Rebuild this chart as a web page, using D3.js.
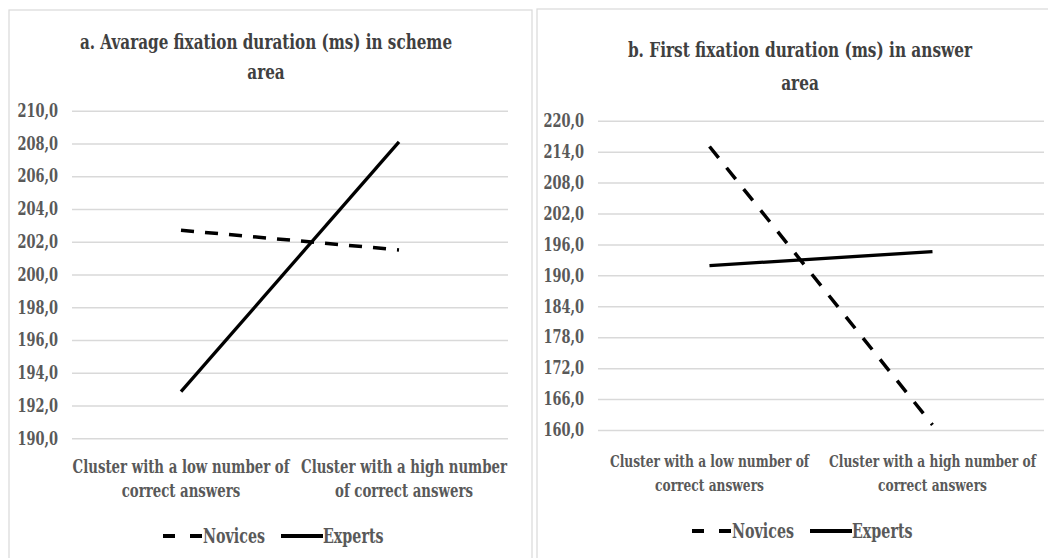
<!DOCTYPE html>
<html>
<head>
<meta charset="utf-8">
<script src="https://cdn.jsdelivr.net/npm/d3@7"></script>
<style>
  body { margin: 0; background: #fff; }
  svg text { font-family: "DejaVu Serif", serif; font-weight: bold; }
</style>
</head>
<body>
<div id="chart"></div>
<script>
// categories (two lines each)
const categoriesA = [["Cluster with a low number of", "correct answers"], ["Cluster with a high number", "of correct answers"]];
const categoriesB = [["Cluster with a low number of", "correct answers"], ["Cluster with a high number of", "correct answers"]];
const seriesNames = ["Novices", "Experts"];

// panel a values
const noviceA = [202.7, 201.5];
const expertA = [192.85, 208.1];
// panel b values
const noviceB = [215.0, 161.0];
const expertB = [191.9, 194.6];

const ticksA = d3.range(190, 210.1, 2);
const ticksB = d3.range(160, 220.1, 6);

const W = 1048, H = 558;
const sx = 0.72;
const svg = d3.select("#chart").append("svg").attr("width", W).attr("height", H);

const fmt = v => d3.format(".1f")(v).replace(".", ",");

function stext(g, x, y, str, opts) {
  return g.append("text")
    .attr("transform", `translate(${x},${y}) scale(${sx},1)`)
    .attr("text-anchor", opts.anchor || "middle")
    .attr("dy", "0.35em")
    .attr("font-size", opts.size)
    .attr("fill", opts.fill)
    .text(str);
}

// stretch the dash pattern a little so the line ends on a short dash, like the original
function fitDash(path, dash, gap) {
  const L = path.node().getTotalLength();
  const n = Math.max(1, Math.round((L - 2) / (dash + gap)));
  const k = (L - 2) / (n * (dash + gap));
  path.attr("stroke-dasharray", `${dash * k},${gap * k}`);
}

function panel(cfg) {
  const g = svg.append("g");
  g.append("rect")
    .attr("x", cfg.box[0]).attr("y", cfg.box[1])
    .attr("width", cfg.box[2]).attr("height", cfg.box[3])
    .attr("fill", "#fff").attr("stroke", "#d9d9d9").attr("stroke-width", 1.2);

  const x = d3.scaleBand().domain([0, 1]).range(cfg.xr);
  const y = d3.scaleLinear().domain(cfg.domain).range(cfg.yr);

  // gridlines + tick labels via axis
  const ax = g.append("g")
    .attr("transform", `translate(${cfg.xr[0]},0)`)
    .call(d3.axisLeft(y).tickValues(cfg.ticks).tickFormat(fmt)
      .tickSize(-(cfg.xr[1] - cfg.xr[0])).tickPadding(0));
  ax.attr("font-family", null);
  ax.select(".domain").remove();
  ax.selectAll(".tick line").attr("stroke", "#d9d9d9").attr("stroke-width", 1.5);
  ax.selectAll(".tick text")
    .attr("x", null)
    .attr("transform", `translate(-14,0) scale(${sx},1)`)
    .attr("font-size", 18).attr("fill", "#595959");

  // title
  cfg.title.forEach((t, i) => stext(g, cfg.titleX, cfg.titleY[i], t, { size: cfg.titleSize, fill: "#404040" }));

  // category labels
  cfg.cats.forEach((lines, i) => {
    lines.forEach((t, j) => stext(g, x(i) + x.bandwidth() / 2 + (cfg.catShift[i] || 0), cfg.catY[j], t, { size: cfg.catSize, fill: "#595959" }));
  });

  const line = d3.line().x((d, i) => x(i) + x.bandwidth() / 2).y(d => y(d));
  const nov = g.append("path").datum(cfg.novice).attr("d", line)
    .attr("fill", "none").attr("stroke", "#000").attr("stroke-width", 3.5);
  fitDash(nov, cfg.dash[0], cfg.dash[1]);
  g.append("path").datum(cfg.expert).attr("d", line)
    .attr("fill", "none").attr("stroke", "#000").attr("stroke-width", 3.3);

  // legend
  const ly = cfg.legendY, lx = cfg.legendX;
  g.append("line").attr("x1", lx).attr("x2", lx + 39).attr("y1", ly).attr("y2", ly)
    .attr("stroke", "#000").attr("stroke-width", 4).attr("stroke-dasharray", "12,15");
  stext(g, lx + 40, ly, seriesNames[0], { size: 19.8, fill: "#595959", anchor: "start" });
  g.append("line").attr("x1", lx + 118).attr("x2", lx + 160).attr("y1", ly).attr("y2", ly)
    .attr("stroke", "#000").attr("stroke-width", 4);
  stext(g, lx + 160, ly, seriesNames[1], { size: 19.8, fill: "#595959", anchor: "start" });
}

panel({
  box: [9, 10, 523, 560],
  xr: [72, 508], yr: [438.3, 110.7], domain: [190, 210], ticks: ticksA,
  title: ["a. Avarage fixation duration (ms) in scheme", "area"], titleX: 266, titleY: [42, 72], titleSize: 21.1,
  cats: categoriesA, catY: [467, 491], catShift: [0, 5], catSize: 18.5,
  novice: noviceA, expert: expertA, dash: [13, 11],
  legendX: 163, legendY: 536
});

panel({
  box: [537, 9, 520, 560],
  xr: [598, 1044], yr: [430, 120.7], domain: [160, 220], ticks: ticksB,
  title: ["b. First fixation duration (ms) in answer", "area"], titleX: 800, titleY: [50, 83], titleSize: 21.3,
  cats: categoriesB, catY: [461, 485], catShift: [0, 0], catSize: 17,
  novice: noviceB, expert: expertB, dash: [15, 13],
  legendX: 692, legendY: 531
});
</script>
</body>
</html>
